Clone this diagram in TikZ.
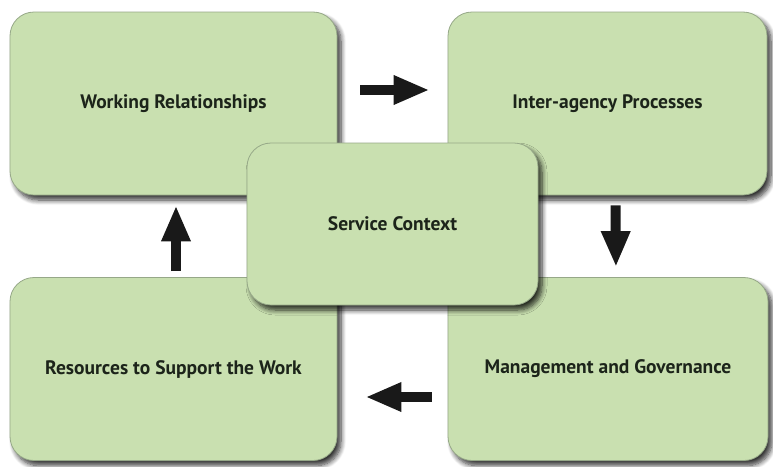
\documentclass[tikz,border=0pt]{standalone}
\usepackage{fontspec}
\setmainfont{PT Sans}
\usepackage{xcolor}
\usepackage{tikz}
\usetikzlibrary{arrows.meta,shadows.blur}
\definecolor{boxfill}{RGB}{201,224,176}
\definecolor{boxline}{RGB}{150,168,136}
\definecolor{boxtext}{RGB}{28,36,26}

\begin{document}
\begin{tikzpicture}[x=1pt,y=-1pt]
\tikzset{area/.style=
	{draw=boxline,fill=boxfill,rounded corners=24pt,line width=0.8pt,
	 minimum width=327pt,minimum height=183pt,align=center,
	 font=\bfseries\fontsize{19.5}{23}\selectfont,text=boxtext,
	 blur shadow={shadow xshift=4pt,shadow yshift=-5pt,shadow blur steps=8,shadow blur radius=5pt,shadow opacity=80}},
	flow/.style=
	{line width=10pt,draw=black!90,-{Triangle[length=36pt,width=27pt]}}}
\useasboundingbox (0,0) rectangle (773,466);
\node[area] (wr) at (173.5,103.5) {Working Relationships};
\node[area,minimum width=319pt] (ia) at (607.5,103.5) {Inter-agency Processes};
\node[area] (rs) at (173.5,369) {Resources to Support the Work};
\node[area,minimum width=320pt] (mg) at (608,369) {Management and Governance};
\node[area,minimum width=291pt,minimum height=162pt] (sc) at (392.5,224) {Service Context};
\draw[flow,shorten <=23pt,shorten >=18pt] ([yshift=13.5pt]wr.east) -- ([yshift=13.5pt]ia.west);
\draw[flow,shorten <=10pt,shorten >=10pt] ([xshift=8pt]ia.south) -- ([xshift=8pt]mg.north);
\draw[flow,shorten <=16pt,shorten >=28pt] ([yshift=-28pt]mg.west) -- ([yshift=-28pt]rs.east);
\draw[flow,shorten <=6pt,shorten >=10pt] ([xshift=2.5pt]rs.north) -- ([xshift=2.5pt]wr.south);
\end{tikzpicture}
\end{document}
